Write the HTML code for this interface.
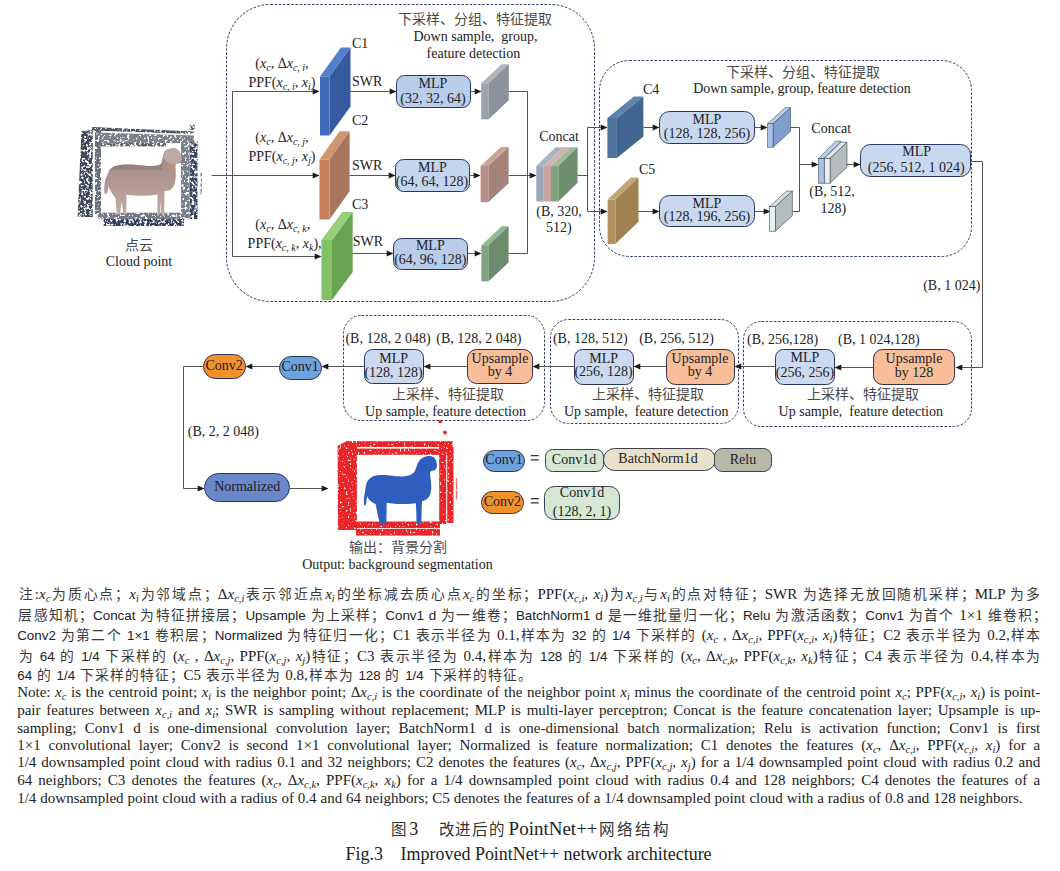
<!DOCTYPE html>
<html lang="zh-CN"><head><meta charset="utf-8">
<style>
html,body{margin:0;padding:0;background:#fff;}
body{width:1060px;height:871px;position:relative;overflow:hidden;font-family:"Liberation Serif",serif;color:#222;}
svg{position:absolute;left:0;top:0;}
svg text{font-family:"Liberation Serif",serif;}
.ln{position:absolute;left:17.2px;white-space:nowrap;text-align:justify;text-align-last:justify;}
.zh{font-size:15px;width:1023px;height:20px;}
.cj{font-size:13.8px;color:#3a3a3a;}
.en{font-size:15px;width:1023px;}
.ss{font-family:"Liberation Sans",sans-serif;font-size:13.4px;}
i{font-style:italic;}
sub{font-size:70%;vertical-align:-0.25em;line-height:0;font-style:italic;}
.mk{display:inline-block;width:0;height:0;}
.cap{position:absolute;font-size:18px;white-space:nowrap;}
</style></head><body>
<svg width="1060" height="871" viewBox="0 0 1060 871">
<rect x="226.5" y="4.5" width="368.00" height="297.00" rx="44" ry="44" fill="none" stroke="#33406a" stroke-width="1" stroke-dasharray="2.6 1.55"/>
<rect x="599.5" y="60.5" width="372.00" height="196.00" rx="30" ry="30" fill="none" stroke="#33406a" stroke-width="1" stroke-dasharray="2.6 1.55"/>
<rect x="743.5" y="321.5" width="228.00" height="105.00" rx="18" ry="18" fill="none" stroke="#33406a" stroke-width="1" stroke-dasharray="2.6 1.55"/>
<rect x="550.5" y="319.5" width="188.00" height="104.00" rx="18" ry="18" fill="none" stroke="#33406a" stroke-width="1" stroke-dasharray="2.6 1.55"/>
<rect x="343.5" y="315.5" width="201.00" height="105.00" rx="18" ry="18" fill="none" stroke="#33406a" stroke-width="1" stroke-dasharray="2.6 1.55"/>
<defs>
<filter id="spk" x="-5%" y="-5%" width="110%" height="110%">
<feTurbulence type="fractalNoise" baseFrequency="0.38" numOctaves="3" seed="4" result="n"/>
<feColorMatrix in="n" type="matrix" values="0 0 0 0 0  0 0 0 0 0  0 0 0 0 0  0 0 0 6 -2.1" result="m"/>
<feComposite in="SourceGraphic" in2="m" operator="in"/>
</filter>
<filter id="spk2" x="-5%" y="-5%" width="110%" height="110%">
<feTurbulence type="fractalNoise" baseFrequency="0.5" numOctaves="2" seed="9" result="n"/>
<feColorMatrix in="n" type="matrix" values="0 0 0 0 0  0 0 0 0 0  0 0 0 0 0  0 0 0 10 -2.6" result="m"/>
<feComposite in="SourceGraphic" in2="m" operator="in"/>
</filter>
</defs>
<defs><filter id="spk3" x="-5%" y="-5%" width="110%" height="110%">
<feTurbulence type="fractalNoise" baseFrequency="0.4" numOctaves="2" seed="7" result="n"/>
<feColorMatrix in="n" type="matrix" values="0 0 0 0 0  0 0 0 0 0  0 0 0 0 0  0 0 0 9 -2.9" result="m"/>
<feComposite in="SourceGraphic" in2="m" operator="in"/>
</filter></defs>
<g filter="url(#spk)">
<polygon points="81.4,131 92.7,130 92.7,217 77.6,217" fill="#3e4458"/>
<rect x="189.5" y="141" width="8" height="78" fill="#3a4260"/>
<rect x="103.5" y="219" width="80.5" height="7" fill="#2f3a60"/>
<rect x="101" y="143" width="65" height="3.5" fill="#5a5f6a"/>
<circle cx="192" cy="127" r="3" fill="#4a4f5c"/>
<rect x="200.5" y="173" width="1.5" height="21" fill="#7a8090"/>
</g>
<g filter="url(#spk3)">
<rect x="95" y="127.6" width="6" height="86.4" fill="#6a707a"/>
<polygon points="92,127 194,131.5 194,134 92,130.5" fill="#50555f"/>
<polygon points="95,132.5 194,135.5 194,143 101,143.5" fill="#7c818a"/>
<rect x="181" y="143" width="8.5" height="75" fill="#7a808a"/>
<rect x="97.8" y="212.7" width="91" height="6.5" fill="#737a86"/>
</g>
<defs><linearGradient id="shg" x1="0" y1="0" x2="0" y2="1"><stop offset="0" stop-color="#8f7c7a"/><stop offset="0.25" stop-color="#a88f8b"/><stop offset="0.7" stop-color="#b89e99"/><stop offset="1" stop-color="#c2aaa5"/></linearGradient></defs>
<defs><clipPath id="shc"><path d="M104.5,194 C104,190 104.2,185 105,181 C105.4,179 105.9,178 106.5,177 C107,175.5 107.4,174.2 108,173 C108.8,171.2 109.6,170 110.5,169 C111.6,167.8 112.8,167 114,166.5 C115.4,165.9 116.7,165.5 118,165.3 C120.5,164.9 122.8,164.6 125,164.5 C128.5,164.4 131.8,164.5 135,164.7 C138.5,165 141.8,165.4 145,165.8 C147.4,166.1 149.7,166.1 152,166 C154.2,165.9 156.2,165.7 158,165.3 C159.2,165 160.2,164.6 161,164 C161.6,162.8 162,161.4 162.3,160 C162.7,158.2 162.9,156.6 163.2,155 C163.5,153.7 163.9,152.5 164.5,151.5 C165.2,150.6 166,150 167,149.5 C168.3,149 169.6,148.7 171,148.5 C172.4,148.4 173.7,148.4 175,148.6 C176.1,148.9 177.1,149.4 178,150 C178.8,150.7 179.5,151.5 180,152.5 C180.7,153.9 181.2,155.4 181.5,157 C181.8,158.4 182,159.7 182,161 C181.8,161.8 181.5,162.4 181,162.8 C180.2,163.2 179.4,163.4 178.5,163.5 C177.6,163.6 176.8,163.7 176,163.8 C175.6,164.8 175.5,165.9 175.5,167 C175.6,168.7 175.8,170.3 175.8,172 C175.8,174 175.8,176 175.6,178 C175.4,180 175,182 174.5,184 C174,185.5 173.3,186.8 172.5,188 C171.5,189.2 170.3,190 169,190.5 L164.5,191 L164.2,214.5 L161.2,214.5 L160.7,200 L160.2,214.5 L157.4,214.5 L157.5,194.5 C155,195 152.5,195.3 150,195.5 C146.7,195.7 143.3,195.8 140,195.8 C136.7,195.8 133.3,195.6 130,195.3 C128.8,195.1 127.6,194.8 126.5,194.5 L126.2,214.5 L123.4,214.5 L121.6,201 L120,214.5 L117,214.5 C116.6,211 116.3,208 116,205 C115.8,202.5 115.6,200.2 115.5,198 C114.4,196.8 113.4,195.5 112.5,194 C111.5,192.7 110.7,191.3 110,190 C109.4,188.7 108.9,187.3 108.5,186 C108.4,187.4 108.2,188.7 108,190 C107.7,191.2 107.4,192.4 107,193.5 Z"/></clipPath></defs>
<path d="M104.5,194 C104,190 104.2,185 105,181 C105.4,179 105.9,178 106.5,177 C107,175.5 107.4,174.2 108,173 C108.8,171.2 109.6,170 110.5,169 C111.6,167.8 112.8,167 114,166.5 C115.4,165.9 116.7,165.5 118,165.3 C120.5,164.9 122.8,164.6 125,164.5 C128.5,164.4 131.8,164.5 135,164.7 C138.5,165 141.8,165.4 145,165.8 C147.4,166.1 149.7,166.1 152,166 C154.2,165.9 156.2,165.7 158,165.3 C159.2,165 160.2,164.6 161,164 C161.6,162.8 162,161.4 162.3,160 C162.7,158.2 162.9,156.6 163.2,155 C163.5,153.7 163.9,152.5 164.5,151.5 C165.2,150.6 166,150 167,149.5 C168.3,149 169.6,148.7 171,148.5 C172.4,148.4 173.7,148.4 175,148.6 C176.1,148.9 177.1,149.4 178,150 C178.8,150.7 179.5,151.5 180,152.5 C180.7,153.9 181.2,155.4 181.5,157 C181.8,158.4 182,159.7 182,161 C181.8,161.8 181.5,162.4 181,162.8 C180.2,163.2 179.4,163.4 178.5,163.5 C177.6,163.6 176.8,163.7 176,163.8 C175.6,164.8 175.5,165.9 175.5,167 C175.6,168.7 175.8,170.3 175.8,172 C175.8,174 175.8,176 175.6,178 C175.4,180 175,182 174.5,184 C174,185.5 173.3,186.8 172.5,188 C171.5,189.2 170.3,190 169,190.5 L164.5,191 L164.2,214.5 L161.2,214.5 L160.7,200 L160.2,214.5 L157.4,214.5 L157.5,194.5 C155,195 152.5,195.3 150,195.5 C146.7,195.7 143.3,195.8 140,195.8 C136.7,195.8 133.3,195.6 130,195.3 C128.8,195.1 127.6,194.8 126.5,194.5 L126.2,214.5 L123.4,214.5 L121.6,201 L120,214.5 L117,214.5 C116.6,211 116.3,208 116,205 C115.8,202.5 115.6,200.2 115.5,198 C114.4,196.8 113.4,195.5 112.5,194 C111.5,192.7 110.7,191.3 110,190 C109.4,188.7 108.9,187.3 108.5,186 C108.4,187.4 108.2,188.7 108,190 C107.7,191.2 107.4,192.4 107,193.5 Z" fill="url(#shg)"/>
<g clip-path="url(#shc)"><path d="M100,160 C120,163 150,164 162,163 L162,170 C140,170 120,169 100,171 Z" fill="#7f6f6d" opacity="0.45"/><ellipse cx="173" cy="156" rx="9.5" ry="8.5" fill="#bcaaa4"/><ellipse cx="171" cy="166" rx="4" ry="3" fill="#c99873" opacity="0.45"/></g>
<g fill="#e8262c" filter="url(#spk2)">
<polygon points="337.6,445.7 347,441 356.9,444 356.9,530 338,530"/>
<rect x="346.5" y="441.2" width="106" height="5.8"/>
<rect x="352" y="448.6" width="100" height="6.2"/>
<rect x="439.2" y="446" width="7" height="78"/>
<rect x="447.2" y="447" width="6.3" height="76"/>
<rect x="352" y="521.5" width="88" height="6.5"/>
<rect x="356" y="528.8" width="84" height="6.8"/>
<circle cx="445" cy="432.5" r="2"/>
<rect x="438.5" y="420" width="3.5" height="3" />
<rect x="455.8" y="478.5" width="1.4" height="21" opacity="0.7"/>
</g>
<path d="M364.2,505 C363.6,502 363.8,497 365,492 C365.2,490 365.3,489 365.5,488 C366,484 367,481.5 368.5,479.8 C370.5,477.5 373,476 376,475.5 C380,474.8 385,475 390,475.5 C395,476 399,476.6 403,476.4 C406.5,476.2 409,475.5 411,474.6 C412.5,473.8 413.6,473 414.3,472 C415.5,470 416.6,466 418,463 C419,461 420,459.8 421.5,458.6 C423.5,457 426,456.2 428.5,456 C430.5,455.9 432.2,456.2 433.6,457.2 C435,458.2 435.8,459.6 436.2,461.2 C436.8,463 437.2,465 436.8,467 C436.4,468.6 435.5,470 434,470.6 C432.8,471 431.5,470.8 430.6,471.4 C429.8,472.2 430,474.5 430.4,477 C431,481 431.4,485 431.2,489 C431,492.5 430,495.5 428.5,497.5 C426.5,499.6 424,500.6 422,501.2 L421.6,512 L421.4,523.5 L416.5,523.5 L416.3,512 L415.8,503.2 C413,503.6 409,503.8 404,504 C398,504.2 392,503.6 386.6,502.8 L386.6,512 L386.3,524.2 L380,524.4 C379.4,522 378.6,519 377.8,515 C377,511 376.2,507 375.6,504 C373.5,503 371,501.8 369.2,499.8 C368.2,498.8 367.5,497.5 367,496 C366.8,498 366.6,501 366,505.2 Z" fill="#2e5fbe"/>
<path d="M211.5,175.5 L232.5,175.5" fill="none" stroke="#555555" stroke-width="1"/>
<path d="M232.5,91.5 L232.5,256.5" fill="none" stroke="#555555" stroke-width="1"/>
<path d="M232.5,91.5 L313.5,91.5" fill="none" stroke="#555555" stroke-width="1"/><polygon points="319.5,91.5 312.70,94.60 312.70,88.40" fill="#1a1a1a"/>
<path d="M232.5,175.5 L313.5,175.5" fill="none" stroke="#555555" stroke-width="1"/><polygon points="319.5,175.5 312.70,178.60 312.70,172.40" fill="#1a1a1a"/>
<path d="M232.5,256.5 L315.5,256.5" fill="none" stroke="#555555" stroke-width="1"/><polygon points="321.5,256.5 314.70,259.60 314.70,253.40" fill="#1a1a1a"/>
<polygon points="320,76.5 341,47.5 350.5,47.5 329.5,76.5" fill="#5380cc"/><polygon points="329.5,76.5 350.5,47.5 350.5,106.5 329.5,135.5" fill="#3659a0"/><rect x="320" y="76.5" width="9.5" height="59" fill="#3f6bbd"/>
<polygon points="319.5,159.5 339.6,131.3 349.6,131.3 329.5,159.5" fill="#cf9670"/><polygon points="329.5,159.5 349.6,131.3 349.6,191.3 329.5,219.5" fill="#a8765c"/><rect x="319.5" y="159.5" width="10" height="60" fill="#c4835c"/>
<polygon points="321.5,240 342.2,212 352.7,212 332.0,240" fill="#98cf7e"/><polygon points="332.0,240 352.7,212 352.7,272 332.0,300" fill="#6aa452"/><rect x="321.5" y="240" width="10.5" height="60" fill="#82c165"/>
<text x="352" y="48" font-size="14" text-anchor="start" fill="#222" >C1</text>
<text x="352" y="125.2" font-size="14" text-anchor="start" fill="#222" >C2</text>
<text x="352" y="209.2" font-size="14" text-anchor="start" fill="#222" >C3</text>
<text x="352" y="86" font-size="14" text-anchor="start" fill="#222" >SWR</text>
<text x="352" y="169.5" font-size="14" text-anchor="start" fill="#222" >SWR</text>
<text x="352.7" y="245.7" font-size="14" text-anchor="start" fill="#222" >SWR</text>
<path d="M350.5,91.5 L390.5,91.5" fill="none" stroke="#555555" stroke-width="1"/><polygon points="396.5,91.5 389.70,94.60 389.70,88.40" fill="#1a1a1a"/>
<path d="M349.5,175.5 L389.5,175.5" fill="none" stroke="#555555" stroke-width="1"/><polygon points="395.5,175.5 388.70,178.60 388.70,172.40" fill="#1a1a1a"/>
<path d="M352.5,253.5 L387.5,253.5" fill="none" stroke="#555555" stroke-width="1"/><polygon points="393.5,253.5 386.70,256.60 386.70,250.40" fill="#1a1a1a"/>
<rect x="396.5" y="75.5" width="74.00" height="32.00" rx="8" ry="8" fill="#b7cdea" stroke="#2a3560" stroke-width="1"/>
<rect x="395.5" y="159.5" width="74.00" height="32.00" rx="8" ry="8" fill="#c4d6ef" stroke="#2a3560" stroke-width="1"/>
<rect x="393.5" y="238.5" width="74.00" height="31.00" rx="8" ry="8" fill="#b7cdea" stroke="#2a3560" stroke-width="1"/>
<text x="433" y="87.6" font-size="14" text-anchor="middle" fill="#222" >MLP</text>
<text x="433" y="102.5" font-size="14" text-anchor="middle" fill="#222" >(32, 32, 64)</text>
<text x="432.5" y="172" font-size="14" text-anchor="middle" fill="#222" >MLP</text>
<text x="432" y="186.3" font-size="14" text-anchor="middle" fill="#222" >(64, 64, 128)</text>
<text x="430.3" y="249.5" font-size="14" text-anchor="middle" fill="#222" >MLP</text>
<text x="430.3" y="263.8" font-size="14" text-anchor="middle" fill="#222" >(64, 96, 128)</text>
<path d="M470.5,91.5 L475.5,91.5" fill="none" stroke="#555555" stroke-width="1"/><polygon points="481.5,91.5 474.70,94.60 474.70,88.40" fill="#1a1a1a"/>
<path d="M469.5,175.5 L474.5,175.5" fill="none" stroke="#555555" stroke-width="1"/><polygon points="480.5,175.5 473.70,178.60 473.70,172.40" fill="#1a1a1a"/>
<path d="M467.5,253.5 L475.5,253.5" fill="none" stroke="#555555" stroke-width="1"/><polygon points="481.5,253.5 474.70,256.60 474.70,250.40" fill="#1a1a1a"/>
<polygon points="481.2,83.3 501.7,64.19999999999999 508.8,64.19999999999999 488.3,83.3" fill="#b0b5bd"/><polygon points="488.3,83.3 508.8,64.19999999999999 508.8,100.30000000000001 488.3,119.4" fill="#8b929c"/><rect x="481.2" y="83.3" width="7.1" height="36.1" fill="#9ca2ac"/>
<polygon points="480.6,166 500.90000000000003,147 508.6,147 488.3,166" fill="#c8a49a"/><polygon points="488.3,166 508.6,147 508.6,183.2 488.3,202.2" fill="#a5837b"/><rect x="480.6" y="166" width="7.7" height="36.2" fill="#b68f86"/>
<polygon points="481.4,245.2 501.7,226.29999999999998 508.59999999999997,226.29999999999998 488.29999999999995,245.2" fill="#96b896"/><polygon points="488.29999999999995,245.2 508.59999999999997,226.29999999999998 508.59999999999997,262.5 488.29999999999995,281.4" fill="#6d8c6d"/><rect x="481.4" y="245.2" width="6.9" height="36.2" fill="#7ea37e"/>
<path d="M508.5,91.5 L527.5,91.5 L527.5,253.5 L508.5,253.5" fill="none" stroke="#555555" stroke-width="1"/>
<path d="M508.5,175.5 L530.5,175.5" fill="none" stroke="#555555" stroke-width="1"/><polygon points="536.5,175.5 529.70,178.60 529.70,172.40" fill="#1a1a1a"/>
<polygon points="536.3,166.1 555.5999999999999,147.29999999999998 562.9999999999999,147.29999999999998 543.6999999999999,166.1" fill="#aab3c0"/>
<polygon points="543.6999999999999,166.1 562.9999999999999,147.29999999999998 570.3,147.29999999999998 551.0,166.1" fill="#d4b2ae"/>
<polygon points="551.0,166.1 570.3,147.29999999999998 577.5999999999999,147.29999999999998 558.3,166.1" fill="#9dbd99"/><polygon points="558.3,166.1 577.5999999999999,147.29999999999998 577.5999999999999,182.7 558.3,201.5" fill="#6d8f6d"/><rect x="551.0" y="166.1" width="7.3" height="35.4" fill="#80a480"/>
<rect x="536.3" y="166.1" width="7.4" height="35.4" fill="#9ca6b6"/>
<rect x="543.6999999999999" y="166.1" width="7.3" height="35.4" fill="#c6a2a0"/>
<text x="559" y="140.7" font-size="14" text-anchor="middle" fill="#222" >Concat</text>
<text x="536.3" y="215.7" font-size="14" text-anchor="start" fill="#222" >(B, 320,</text>
<text x="546" y="231.6" font-size="14" text-anchor="start" fill="#222" >512)</text>
<path d="M577.5,175.5 L587.5,175.5" fill="none" stroke="#555555" stroke-width="1"/>
<path d="M587.5,127.5 L587.5,211.5" fill="none" stroke="#555555" stroke-width="1"/>
<path d="M587.5,127.5 L601.5,127.5" fill="none" stroke="#555555" stroke-width="1"/><polygon points="607.5,127.5 600.70,130.60 600.70,124.40" fill="#1a1a1a"/>
<path d="M587.5,211.5 L601.5,211.5" fill="none" stroke="#555555" stroke-width="1"/><polygon points="607.5,211.5 600.70,214.60 600.70,208.40" fill="#1a1a1a"/>
<text x="475" y="24.2" font-size="14" text-anchor="middle" fill="#4a4a4a" >下采样、分组、特征提取</text>
<text x="475.5" y="40.6" font-size="14" text-anchor="middle" fill="#222" xml:space="preserve">Down sample,  group,</text>
<text x="473.4" y="57.6" font-size="14" text-anchor="middle" fill="#222" >feature detection</text>
<text x="803" y="76.9" font-size="14" text-anchor="middle" fill="#4a4a4a" >下采样、分组、特征提取</text>
<text x="802" y="93.4" font-size="14" text-anchor="middle" fill="#222" >Down sample, group, feature detection</text>
<polygon points="607.4,118 633.9,96.6 643.4,96.6 616.9,118" fill="#5e84ad"/><polygon points="616.9,118 643.4,96.6 643.4,136.6 616.9,158" fill="#416790"/><rect x="607.4" y="118" width="9.5" height="40" fill="#4e729a"/>
<polygon points="607.6,199.6 630.8000000000001,177.4 638.5000000000001,177.4 615.3000000000001,199.6" fill="#c4a574"/><polygon points="615.3000000000001,199.6 638.5000000000001,177.4 638.5000000000001,221.8 615.3000000000001,244.0" fill="#9f8152"/><rect x="607.6" y="199.6" width="7.7" height="44.4" fill="#b39262"/>
<text x="643" y="94" font-size="14" text-anchor="start" fill="#222" >C4</text>
<text x="639" y="173.5" font-size="14" text-anchor="start" fill="#222" >C5</text>
<path d="M643.5,127.5 L653.5,127.5" fill="none" stroke="#555555" stroke-width="1"/><polygon points="659.5,127.5 652.70,130.60 652.70,124.40" fill="#1a1a1a"/>
<path d="M638.5,211.5 L653.5,211.5" fill="none" stroke="#555555" stroke-width="1"/><polygon points="659.5,211.5 652.70,214.60 652.70,208.40" fill="#1a1a1a"/>
<rect x="659.5" y="111.5" width="95.00" height="32.00" rx="10" ry="10" fill="#c8d8ef" stroke="#2a3560" stroke-width="1"/>
<rect x="659.5" y="195.5" width="95.00" height="31.00" rx="10" ry="10" fill="#c8d8ef" stroke="#2a3560" stroke-width="1"/>
<text x="707" y="123.6" font-size="14" text-anchor="middle" fill="#222" >MLP</text>
<text x="707" y="137.7" font-size="14" text-anchor="middle" fill="#222" >(128, 128, 256)</text>
<text x="707" y="207.7" font-size="14" text-anchor="middle" fill="#222" >MLP</text>
<text x="707" y="221.3" font-size="14" text-anchor="middle" fill="#222" >(128, 196, 256)</text>
<path d="M754.5,127.5 L761.5,127.5" fill="none" stroke="#555555" stroke-width="1"/><polygon points="767.5,127.5 760.70,130.60 760.70,124.40" fill="#1a1a1a"/>
<path d="M754.5,211.5 L764.5,211.5" fill="none" stroke="#555555" stroke-width="1"/><polygon points="770.5,211.5 763.70,214.60 763.70,208.40" fill="#1a1a1a"/>
<polygon points="767.7,123.6 785.1,107.69999999999999 790.5,107.69999999999999 773.1,123.6" fill="#bcd0ea" stroke="#3d4a66" stroke-width="0.6"/><polygon points="773.1,123.6 790.5,107.69999999999999 790.5,131.29999999999998 773.1,147.2" fill="#7f9ecb" stroke="#3d4a66" stroke-width="0.6"/><rect x="767.7" y="123.6" width="5.4" height="23.6" fill="#a8c2e6" stroke="#3d4a66" stroke-width="0.6"/>
<polygon points="769.5,206.6 786.6,191.1 792.4,191.1 775.3,206.6" fill="#d6dee1" stroke="#3d4650" stroke-width="0.6"/><polygon points="775.3,206.6 792.4,191.1 792.4,215.7 775.3,231.2" fill="#b5bdbf" stroke="#3d4650" stroke-width="0.6"/><rect x="769.5" y="206.6" width="5.8" height="24.6" fill="#e8eff1" stroke="#3d4650" stroke-width="0.6"/>
<path d="M790.5,127.5 L799.5,127.5 L799.5,211.5 L792.5,211.5" fill="none" stroke="#555555" stroke-width="1"/>
<path d="M799.5,164.5 L812.5,164.5" fill="none" stroke="#555555" stroke-width="1"/><polygon points="818.5,164.5 811.70,167.60 811.70,161.40" fill="#1a1a1a"/>
<polygon points="818.6,158.4 835.5,141.20000000000002 841.1,141.20000000000002 824.2,158.4" fill="#b9cdea" stroke="#3d4a66" stroke-width="0.6"/>
<polygon points="824.2,158.4 841.1,142.20000000000002 847.0,142.20000000000002 830.1,158.4" fill="#dfe6e9" stroke="#3d4650" stroke-width="0.6"/><polygon points="830.1,158.4 847.0,142.20000000000002 847.0,167.00000000000003 830.1,183.20000000000002" fill="#b5bdbf" stroke="#3d4650" stroke-width="0.6"/><rect x="824.2" y="158.4" width="5.9" height="24.8" fill="#e8eff1" stroke="#3d4650" stroke-width="0.6"/>
<rect x="818.6" y="158.4" width="5.6" height="24.8" fill="#a8c2e6" stroke="#3d4a66" stroke-width="0.6"/>
<text x="831.2" y="132.7" font-size="14" text-anchor="middle" fill="#222" >Concat</text>
<text x="809.3" y="196" font-size="14" text-anchor="start" fill="#222" >(B, 512,</text>
<text x="820.6" y="212.5" font-size="14" text-anchor="start" fill="#222" >128)</text>
<path d="M846.5,164.5 L854.5,164.5" fill="none" stroke="#555555" stroke-width="1"/><polygon points="860.5,164.5 853.70,167.60 853.70,161.40" fill="#1a1a1a"/>
<rect x="860.5" y="144.5" width="110.00" height="32.00" rx="10" ry="10" fill="#c8d8ef" stroke="#2a3560" stroke-width="1"/>
<text x="916.7" y="155.5" font-size="14" text-anchor="middle" fill="#222" >MLP</text>
<text x="916.2" y="172.3" font-size="14" text-anchor="middle" fill="#222" >(256, 512, 1 024)</text>
<path d="M970.5,161.5 L982.5,161.5 L982.5,367.5" fill="none" stroke="#555555" stroke-width="1"/>
<path d="M982.5,367.5 L961.5,367.5" fill="none" stroke="#555555" stroke-width="1"/><polygon points="955.5,367.5 962.30,364.40 962.30,370.60" fill="#1a1a1a"/>
<text x="980.3" y="289.8" font-size="14" text-anchor="end" fill="#222" >(B, 1 024)</text>
<rect x="873.5" y="349.5" width="81.00" height="35.00" rx="9" ry="9" fill="#f8be9a" stroke="#3a3040" stroke-width="1"/>
<text x="914" y="363" font-size="14" text-anchor="middle" fill="#222" >Upsample</text>
<text x="914" y="376.5" font-size="14" text-anchor="middle" fill="#222" >by 128</text>
<rect x="775.5" y="349.5" width="59.00" height="35.00" rx="8" ry="8" fill="#cbdaf0" stroke="#2a3560" stroke-width="1"/>
<text x="805" y="362.4" font-size="14" text-anchor="middle" fill="#222" >MLP</text>
<text x="805" y="376.5" font-size="14" text-anchor="middle" fill="#222" >(256, 256)</text>
<path d="M873.5,367.5 L840.5,367.5" fill="none" stroke="#555555" stroke-width="1"/><polygon points="834.5,367.5 841.30,364.40 841.30,370.60" fill="#1a1a1a"/>
<text x="747" y="343.7" font-size="14" text-anchor="start" fill="#222" >(B, 256,128)</text>
<text x="838" y="343.7" font-size="14" text-anchor="start" fill="#222" >(B, 1 024,128)</text>
<text x="862.5" y="399" font-size="14" text-anchor="middle" fill="#4a4a4a" >上采样、特征提取</text>
<text x="860.8" y="415.8" font-size="14" text-anchor="middle" fill="#222" xml:space="preserve">Up sample,  feature detection</text>
<rect x="666.5" y="349.5" width="68.00" height="35.00" rx="9" ry="9" fill="#f8be9a" stroke="#3a3040" stroke-width="1"/>
<text x="700" y="363" font-size="14" text-anchor="middle" fill="#222" >Upsample</text>
<text x="700" y="376" font-size="14" text-anchor="middle" fill="#222" >by 4</text>
<rect x="574.5" y="349.5" width="59.00" height="35.00" rx="8" ry="8" fill="#cbdaf0" stroke="#2a3560" stroke-width="1"/>
<text x="603.6" y="363" font-size="14" text-anchor="middle" fill="#222" >MLP</text>
<text x="603.6" y="376.4" font-size="14" text-anchor="middle" fill="#222" >(256, 128)</text>
<path d="M775.5,366.5 L740.5,366.5" fill="none" stroke="#555555" stroke-width="1"/><polygon points="734.5,366.5 741.30,363.40 741.30,369.60" fill="#1a1a1a"/>
<path d="M666.5,366.5 L639.5,366.5" fill="none" stroke="#555555" stroke-width="1"/><polygon points="633.5,366.5 640.30,363.40 640.30,369.60" fill="#1a1a1a"/>
<text x="552.9" y="343.2" font-size="14" text-anchor="start" fill="#222" >(B, 128, 512)</text>
<text x="639.2" y="343.2" font-size="14" text-anchor="start" fill="#222" >(B, 256, 512)</text>
<text x="647.9" y="398.8" font-size="14" text-anchor="middle" fill="#4a4a4a" >上采样、特征提取</text>
<text x="646.2" y="415.6" font-size="14" text-anchor="middle" fill="#222" xml:space="preserve">Up sample,  feature detection</text>
<rect x="467.5" y="349.5" width="65.00" height="34.00" rx="9" ry="9" fill="#f8be9a" stroke="#3a3040" stroke-width="1"/>
<text x="500" y="363" font-size="14" text-anchor="middle" fill="#222" >Upsample</text>
<text x="500" y="376" font-size="14" text-anchor="middle" fill="#222" >by 4</text>
<rect x="364.5" y="349.5" width="59.00" height="34.00" rx="8" ry="8" fill="#cbdaf0" stroke="#2a3560" stroke-width="1"/>
<text x="393.6" y="363" font-size="14" text-anchor="middle" fill="#222" >MLP</text>
<text x="393.6" y="376.8" font-size="14" text-anchor="middle" fill="#222" >(128, 128)</text>
<path d="M574.5,366.5 L538.5,366.5" fill="none" stroke="#555555" stroke-width="1"/><polygon points="532.5,366.5 539.30,363.40 539.30,369.60" fill="#1a1a1a"/>
<path d="M467.5,366.5 L429.5,366.5" fill="none" stroke="#555555" stroke-width="1"/><polygon points="423.5,366.5 430.30,363.40 430.30,369.60" fill="#1a1a1a"/>
<text x="345.4" y="343.2" font-size="14" text-anchor="start" fill="#222" >(B, 128, 2 048)</text>
<text x="436.3" y="343.2" font-size="14" text-anchor="start" fill="#222" >(B, 128, 2 048)</text>
<text x="447.7" y="398.8" font-size="14" text-anchor="middle" fill="#4a4a4a" >上采样、特征提取</text>
<text x="445.5" y="415.6" font-size="14" text-anchor="middle" fill="#222" >Up sample, feature detection</text>
<path d="M364.5,366.5 L327.5,366.5" fill="none" stroke="#555555" stroke-width="1"/><polygon points="321.5,366.5 328.30,363.40 328.30,369.60" fill="#1a1a1a"/>
<rect x="279.5" y="356.5" width="42.00" height="23.00" rx="11.6" ry="11.6" fill="#6fa1dc" stroke="#2a3560" stroke-width="1"/>
<text x="300.2" y="370.9" font-size="14" text-anchor="middle" fill="#222" >Conv1</text>
<path d="M279.5,366.5 L251.5,366.5" fill="none" stroke="#555555" stroke-width="1"/><polygon points="245.5,366.5 252.30,363.40 252.30,369.60" fill="#1a1a1a"/>
<rect x="203.5" y="354.5" width="42.00" height="24.00" rx="11.9" ry="11.9" fill="#f0912c" stroke="#2a3560" stroke-width="1"/>
<text x="224.1" y="370.2" font-size="14" text-anchor="middle" fill="#222" >Conv2</text>
<path d="M203.5,366.5 L183.5,366.5 L183.5,488.5" fill="none" stroke="#555555" stroke-width="1"/>
<path d="M183.5,488.5 L198.5,488.5" fill="none" stroke="#555555" stroke-width="1"/><polygon points="204.5,488.5 197.70,491.60 197.70,485.40" fill="#1a1a1a"/>
<text x="187.8" y="435.9" font-size="14" text-anchor="start" fill="#222" >(B, 2, 2 048)</text>
<rect x="204.5" y="473.5" width="85.00" height="28.00" rx="14.2" ry="14.2" fill="#6a87c9" stroke="#2a3560" stroke-width="1"/>
<text x="247.2" y="490.6" font-size="14" text-anchor="middle" fill="#222" >Normalized</text>
<path d="M289.5,488.5 L322.5,488.5" fill="none" stroke="#555555" stroke-width="1"/><polygon points="328.5,488.5 321.70,491.60 321.70,485.40" fill="#1a1a1a"/>
<text x="397.5" y="551.8" font-size="14" text-anchor="middle" fill="#4a4a4a" >输出：背景分割</text>
<text x="397.5" y="569" font-size="14" text-anchor="middle" fill="#222" >Output: background segmentation</text>
<rect x="483.5" y="450.5" width="41.00" height="21.00" rx="10.7" ry="10.7" fill="#6fa1dc" stroke="#2a3560" stroke-width="1"/>
<text x="504" y="464" font-size="14" text-anchor="middle" fill="#222" >Conv1</text>
<path d="M530.8,455.6 H538.8 M530.8,459.8 H538.8" stroke="#333" stroke-width="1.3"/>
<rect x="545.5" y="449.5" width="58.00" height="22.00" rx="7" ry="7" fill="#d6e8d4" stroke="#3a4050" stroke-width="1"/>
<text x="574" y="464" font-size="14" text-anchor="middle" fill="#222" >Conv1d</text>
<rect x="603.5" y="448.5" width="112.00" height="22.00" rx="11" ry="11" fill="#e9e1cb" stroke="#3a4050" stroke-width="1"/>
<text x="658" y="463.4" font-size="14" text-anchor="middle" fill="#222" >BatchNorm1d</text>
<rect x="714.5" y="448.5" width="57.00" height="23.00" rx="8" ry="8" fill="#b9b9a9" stroke="#3a4050" stroke-width="1"/>
<text x="743" y="464" font-size="14" text-anchor="middle" fill="#222" >Relu</text>
<rect x="481.5" y="491.5" width="42.00" height="22.00" rx="10.9" ry="10.9" fill="#f0912c" stroke="#2a3560" stroke-width="1"/>
<text x="502.3" y="505.8" font-size="14" text-anchor="middle" fill="#222" >Conv2</text>
<path d="M530.8,498.6 H538.8 M530.8,502.8 H538.8" stroke="#333" stroke-width="1.3"/>
<rect x="544.5" y="486.5" width="75.00" height="33.00" rx="10" ry="10" fill="#d6e8d4" stroke="#3a4050" stroke-width="1"/>
<text x="582" y="497" font-size="14" text-anchor="middle" fill="#222" >Conv1d</text>
<text x="582" y="515.5" font-size="14" text-anchor="middle" fill="#222" >(128, 2, 1)</text>
<text x="139" y="249.5" font-size="14" text-anchor="middle" fill="#4a4a4a" >点云</text>
<text x="139" y="266" font-size="14" text-anchor="middle" fill="#222" >Cloud point</text>
<text x="255.3" y="67.7" font-size="14" text-anchor="start" fill="#222" >(<tspan font-style="italic">x</tspan><tspan font-size="10" baseline-shift="-3" font-style="italic">c</tspan>, Δ<tspan font-style="italic">x</tspan><tspan font-size="10" baseline-shift="-3" font-style="italic">c, i</tspan>,</text><text x="248.4" y="86.8" font-size="14" text-anchor="start" fill="#222" >PPF(<tspan font-style="italic">x</tspan><tspan font-size="10" baseline-shift="-3" font-style="italic">c, i</tspan>, <tspan font-style="italic">x</tspan><tspan font-size="10" baseline-shift="-3" font-style="italic">i</tspan>)</text>
<text x="255.3" y="141.5" font-size="14" text-anchor="start" fill="#222" >(<tspan font-style="italic">x</tspan><tspan font-size="10" baseline-shift="-3" font-style="italic">c</tspan>, Δ<tspan font-style="italic">x</tspan><tspan font-size="10" baseline-shift="-3" font-style="italic">c, j</tspan>,</text><text x="248.4" y="160.6" font-size="14" text-anchor="start" fill="#222" >PPF(<tspan font-style="italic">x</tspan><tspan font-size="10" baseline-shift="-3" font-style="italic">c, j</tspan>, <tspan font-style="italic">x</tspan><tspan font-size="10" baseline-shift="-3" font-style="italic">j</tspan>)</text>
<text x="255.3" y="228.6" font-size="14" text-anchor="start" fill="#222" >(<tspan font-style="italic">x</tspan><tspan font-size="10" baseline-shift="-3" font-style="italic">c</tspan>, Δ<tspan font-style="italic">x</tspan><tspan font-size="10" baseline-shift="-3" font-style="italic">c, k</tspan>,</text><text x="247.6" y="247.7" font-size="14" text-anchor="start" fill="#222" >PPF(<tspan font-style="italic">x</tspan><tspan font-size="10" baseline-shift="-3" font-style="italic">c, k</tspan>, <tspan font-style="italic">x</tspan><tspan font-size="10" baseline-shift="-3" font-style="italic">k</tspan>),</text>
<text x="390.8" y="834.5" font-size="15.5" fill="#333">图</text>
<text x="409.2" y="835" font-size="18" fill="#222">3</text>
<text x="438.5" y="834.5" font-size="15.5" fill="#333" textLength="66" lengthAdjust="spacing">改进后的</text>
<text x="508.6" y="835" font-size="19" fill="#222" textLength="89" lengthAdjust="spacingAndGlyphs">PointNet++</text>
<text x="598.5" y="834.5" font-size="15.5" fill="#333" textLength="70.5" lengthAdjust="spacing">网络结构</text>
<text x="345.6" y="859.5" font-size="18" fill="#222">Fig.3</text>
<text x="400.6" y="859.5" font-size="18" fill="#222" textLength="311" lengthAdjust="spacingAndGlyphs">Improved PointNet++ network architecture</text>
</svg>
<div class="ln zh" style="top:583.3px;width:1023px"><span class="mk"></span><span class="cj">注</span>:<i>x</i><sub>c</sub><span class="cj">为质心点；</span><i>x</i><sub>i</sub><span class="cj">为邻域点；</span>Δ<i>x</i><sub>c,i</sub><span class="cj">表示邻近点</span><i>x</i><sub>i</sub><span class="cj">的坐标减去质心点</span><i>x</i><sub>c</sub><span class="cj">的坐标；</span>PPF(<i>x</i><sub>c,i</sub>, <i>x</i><sub>i</sub>)<span class="cj">为</span><i>x</i><sub>c,i</sub><span class="cj">与</span><i>x</i><sub>i</sub><span class="cj">的点对特征；</span>SWR <span class="cj">为选择无放回随机采样；</span>MLP <span class="cj">为多</span></div>
<div class="ln zh" style="top:604.1999999999999px;width:1023px"><span class="mk"></span><span class="cj">层感知机；</span><span class="ss">Concat</span> <span class="cj">为特征拼接层；</span><span class="ss">Upsample</span> <span class="cj">为上采样；</span><span class="ss">Conv1 d</span> <span class="cj">为一维卷；</span><span class="ss">BatchNorm1 d</span> <span class="cj">是一维批量归一化；</span><span class="ss">Relu</span> <span class="cj">为激活函数；</span><span class="ss">Conv1</span> <span class="cj">为首个</span> 1×1 <span class="cj">维卷积</span><span style="letter-spacing:-6.9px"><span class="cj">；</span></span></div>
<div class="ln zh" style="top:624.3px;width:1023px"><span class="mk"></span><span class="ss">Conv2</span> <span class="cj">为第二个</span> <span class="ss">1×1</span> <span class="cj">卷积层；</span><span class="ss">Normalized</span> <span class="cj">为特征归一化；</span>C1 <span class="cj">表示半径为</span> 0.1,<span class="cj">样本为</span> <span class="ss">32</span> <span class="cj">的</span> <span class="ss">1/4</span> <span class="cj">下采样的</span> (<i>x</i><sub>c</sub> , Δ<i>x</i><sub>c,i</sub>, PPF(<i>x</i><sub>c,i</sub>, <i>x</i><sub>i</sub>)<span class="cj">特征；</span>C2 <span class="cj">表示半径为</span> 0.2,<span class="cj">样本</span></div>
<div class="ln zh" style="top:644.5999999999999px;width:1023px"><span class="mk"></span><span class="cj">为</span> <span class="ss">64</span> <span class="cj">的</span> <span class="ss">1/4</span> <span class="cj">下采样的</span> (<i>x</i><sub>c</sub> , Δ<i>x</i><sub>c,j</sub>, PPF(<i>x</i><sub>c,j</sub>, <i>x</i><sub>j</sub>)<span class="cj">特征；</span>C3 <span class="cj">表示半径为</span> 0.4,<span class="cj">样本为</span> <span class="ss">128</span> <span class="cj">的</span> <span class="ss">1/4</span> <span class="cj">下采样的</span> (<i>x</i><sub>c</sub>, Δ<i>x</i><sub>c,k</sub>, PPF(<i>x</i><sub>c,k</sub>, <i>x</i><sub>k</sub>)<span class="cj">特征；</span>C4 <span class="cj">表示半径为</span> 0.4,<span class="cj">样本为</span></div>
<div class="ln zh" style="top:664.3px;width:515px"><span class="mk"></span><span class="ss">64</span> <span class="cj">的</span> <span class="ss">1/4</span> <span class="cj">下采样的特征；</span>C5 <span class="cj">表示半径为</span> 0.8,<span class="cj">样本为</span> <span class="ss">128</span> <span class="cj">的</span> <span class="ss">1/4</span> <span class="cj">下采样的特征。</span></div>
<div class="ln en" style="top:684.4px;width:1023px;"><span class="mk"></span>Note: <i>x</i><sub>c</sub> is the centroid point; <i>x</i><sub>i</sub> is the neighbor point; Δ<i>x</i><sub>c,i</sub> is the coordinate of the neighbor point <i>x</i><sub>i</sub> minus the coordinate of the centroid point <i>x</i><sub>c</sub>; PPF(<i>x</i><sub>c,i</sub>, <i>x</i><sub>i</sub>) is point-</div>
<div class="ln en" style="top:702.3px;width:1023px;"><span class="mk"></span>pair features between <i>x</i><sub>c,i</sub> and <i>x</i><sub>i</sub>; SWR is sampling without replacement; MLP is multi-layer perceptron; Concat is the feature concatenation layer; Upsample is up-</div>
<div class="ln en" style="top:719.5px;width:1023px;"><span class="mk"></span>sampling; Conv1 d is one-dimensional convolution layer; BatchNorm1 d is one-dimensional batch normalization; Relu is activation function; Conv1 is first</div>
<div class="ln en" style="top:737.1px;width:1023px;"><span class="mk"></span>1×1 convolutional layer; Conv2 is second 1×1 convolutional layer; Normalized is feature normalization; C1 denotes the features (<i>x</i><sub>c</sub>, Δ<i>x</i><sub>c,i</sub>, PPF(<i>x</i><sub>c,i</sub>, <i>x</i><sub>i</sub>) for a</div>
<div class="ln en" style="top:754.3px;width:1023px;"><span class="mk"></span>1/4 downsampled point cloud with radius 0.1 and 32 neighbors; C2 denotes the features (<i>x</i><sub>c</sub>, Δ<i>x</i><sub>c,j</sub>, PPF(<i>x</i><sub>c,j</sub>, <i>x</i><sub>j</sub>) for a 1/4 downsampled point cloud with radius 0.2 and</div>
<div class="ln en" style="top:772.0px;width:1023px;"><span class="mk"></span>64 neighbors; C3 denotes the features (<i>x</i><sub>c</sub>, Δ<i>x</i><sub>c,k</sub>, PPF(<i>x</i><sub>c,k</sub>, <i>x</i><sub>k</sub>) for a 1/4 downsampled point cloud with radius 0.4 and 128 neighbors; C4 denotes the features of a</div>
<div class="ln en" style="top:789.9px;width:1023px;text-align-last:left;word-spacing:0.19px;"><span class="mk"></span>1/4 downsampled point cloud with a radius of 0.4 and 64 neighbors; C5 denotes the features of a 1/4 downsampled point cloud with a radius of 0.8 and 128 neighbors.</div>
</body></html>
